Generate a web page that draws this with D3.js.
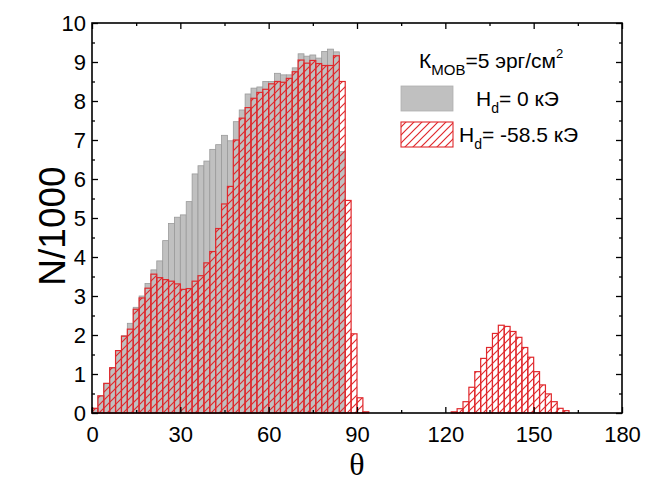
<!DOCTYPE html>
<html>
<head>
<meta charset="utf-8">
<script src="https://cdn.jsdelivr.net/npm/d3@7"></script>
<style>
  html, body { margin: 0; padding: 0; background: #fff; }
  svg { display: block; font-family: Arial, "Liberation Sans", sans-serif; }
</style>
</head>
<body>
<svg id="chart" width="646" height="486"></svg>
<script>
// Histogram of angles θ (degrees), bin width 2°, counts in thousands
const binWidth = 2;

// H_d = 0 kOe: bins starting at 0°, 2°, ... 84°
const countsZeroField = [0.12, 0.44, 0.76, 1.16, 1.60, 1.98, 2.30, 2.71, 3.00, 3.32,
  3.67, 3.90, 4.42, 4.86, 5.02, 5.08, 5.42, 6.13, 6.34, 6.46,
  6.76, 6.88, 7.12, 6.98, 7.47, 7.77, 8.18, 8.33, 8.36, 8.50,
  8.50, 8.71, 8.67, 8.67, 8.85, 9.21, 9.15, 9.18, 9.10, 9.27,
  9.33, 9.26, 6.70];
const startsZeroField = d3.range(0, countsZeroField.length * binWidth, binWidth);

// H_d = -58.5 kOe, first group: bins starting at 0° ... 92°
const countsFieldLow = [0.12, 0.44, 0.76, 1.16, 1.60, 1.97, 2.15, 2.66, 2.95, 3.20,
  3.56, 3.47, 3.42, 3.38, 3.31, 3.17, 3.19, 3.38, 3.52, 3.85,
  4.14, 4.73, 5.36, 5.81, 7.00, 7.56, 7.83, 8.07, 8.22, 8.30,
  8.44, 8.50, 8.48, 8.58, 8.75, 9.05, 8.97, 9.04, 8.96, 8.91,
  8.91, 9.16, 8.50, 5.45, 2.03, 0.39, 0.03];
const startsFieldLow = d3.range(0, countsFieldLow.length * binWidth, binWidth);

// H_d = -58.5 kOe, second group: bins starting at 122° ... 160°
const countsFieldHigh = [0.03, 0.11, 0.29, 0.66, 1.06, 1.40, 1.68, 2.04, 2.25, 2.22,
  2.09, 1.94, 1.68, 1.43, 1.06, 0.72, 0.49, 0.29, 0.12, 0.06];
const startsFieldHigh = d3.range(122, 122 + countsFieldHigh.length * binWidth, binWidth);

const xTicks = [0, 30, 60, 90, 120, 150, 180];
const xMinorTicks = [15, 45, 75, 105, 135, 165];
const yTicks = [0, 1, 2, 3, 4, 5, 6, 7, 8, 9, 10];
const yMinorTicks = [0.5, 1.5, 2.5, 3.5, 4.5, 5.5, 6.5, 7.5, 8.5, 9.5];

const grayFill = "#c0c0c0", grayStroke = "#9a9a9a", red = "#e0282c";

const svg = d3.select("#chart");
const plot = { left: 92, right: 622, top: 23, bottom: 413 };

const x = d3.scaleLinear().domain([0, 180]).range([plot.left, plot.right]);
const y = d3.scaleLinear().domain([0, 10]).range([plot.bottom, plot.top]);

// diagonal hatch used for the -58.5 kOe series
const defs = svg.append("defs");
defs.append("pattern")
  .attr("id", "hatch")
  .attr("patternUnits", "userSpaceOnUse")
  .attr("width", 8).attr("height", 8)
  .append("path")
  .attr("d", "M-1,1 l2,-2 M0,8 l8,-8 M7,9 l2,-2")
  .attr("stroke", red).attr("stroke-width", 1.2);

const bars = svg.append("g");

const toRows = (starts, counts) => starts.map((s, i) => ({ s, v: counts[i] }));

bars.selectAll("rect.zero")
  .data(toRows(startsZeroField, countsZeroField))
  .join("rect")
  .attr("class", "zero")
  .attr("x", d => x(d.s))
  .attr("width", d => x(d.s + binWidth) - x(d.s))
  .attr("y", d => y(d.v))
  .attr("height", d => y(0) - y(d.v))
  .attr("fill", grayFill)
  .attr("stroke", grayStroke)
  .attr("stroke-width", 0.8);

const fieldRows = toRows(startsFieldLow, countsFieldLow)
  .concat(toRows(startsFieldHigh, countsFieldHigh));

bars.selectAll("rect.field")
  .data(fieldRows)
  .join("rect")
  .attr("class", "field")
  .attr("x", d => x(d.s))
  .attr("width", d => x(d.s + binWidth) - x(d.s))
  .attr("y", d => y(d.v))
  .attr("height", d => y(0) - y(d.v))
  .attr("fill", "url(#hatch)")
  .attr("stroke", red)
  .attr("stroke-width", 1.2);

// axes with inward ticks on all four sides
const styleAxis = g => {
  g.selectAll(".domain").remove();
  g.selectAll(".tick line").attr("stroke", "#000").attr("stroke-width", 1.3);
  g.selectAll(".tick text").attr("fill", "#000").style("font-family", "Arial, 'Liberation Sans', sans-serif");
};

svg.append("g").attr("transform", `translate(0,${plot.bottom})`)
  .call(d3.axisBottom(x).tickValues(xTicks).tickSize(-6).tickPadding(13).tickFormat(d3.format("d")))
  .call(styleAxis)
  .selectAll(".tick text").style("font-size", "22px");
svg.append("g").attr("transform", `translate(0,${plot.bottom})`)
  .call(d3.axisBottom(x).tickValues(xMinorTicks).tickSize(-3).tickFormat(""))
  .call(styleAxis);
svg.append("g").attr("transform", `translate(0,${plot.top})`)
  .call(d3.axisTop(x).tickValues(xTicks).tickSize(-6).tickFormat(""))
  .call(styleAxis);
svg.append("g").attr("transform", `translate(0,${plot.top})`)
  .call(d3.axisTop(x).tickValues(xMinorTicks).tickSize(-3).tickFormat(""))
  .call(styleAxis);

svg.append("g").attr("transform", `translate(${plot.left},0)`)
  .call(d3.axisLeft(y).tickValues(yTicks).tickSize(-6).tickPadding(6).tickFormat(d3.format("d")))
  .call(styleAxis)
  .selectAll(".tick text").style("font-size", "22px");
svg.append("g").attr("transform", `translate(${plot.left},0)`)
  .call(d3.axisLeft(y).tickValues(yMinorTicks).tickSize(-3).tickFormat(""))
  .call(styleAxis);
svg.append("g").attr("transform", `translate(${plot.right},0)`)
  .call(d3.axisRight(y).tickValues(yTicks).tickSize(-6).tickFormat(""))
  .call(styleAxis);
svg.append("g").attr("transform", `translate(${plot.right},0)`)
  .call(d3.axisRight(y).tickValues(yMinorTicks).tickSize(-3).tickFormat(""))
  .call(styleAxis);

// frame
svg.append("rect")
  .attr("x", plot.left).attr("y", plot.top)
  .attr("width", plot.right - plot.left).attr("height", plot.bottom - plot.top)
  .attr("fill", "none").attr("stroke", "#000").attr("stroke-width", 1.6);

// axis titles
svg.append("text")
  .attr("transform", `translate(65,${(plot.top + plot.bottom) / 2 + 8}) rotate(-90)`)
  .attr("text-anchor", "middle")
  .style("font-size", "37px")
  .text("N/1000");

svg.append("text")
  .attr("x", x(90)).attr("y", 475)
  .attr("text-anchor", "middle")
  .style("font-family", "'Liberation Serif', 'Times New Roman', serif")
  .style("font-size", "32px")
  .text("θ");

// legend
const legend = svg.append("g").style("font-size", "21px");

const kText = legend.append("text").attr("x", 419).attr("y", 68);
kText.append("tspan").text("К");
kText.append("tspan").attr("dy", 7).style("font-size", "15px").text("МОВ");
kText.append("tspan").attr("dy", -7).text("=5 эрг/см");
kText.append("tspan").attr("dy", -10).style("font-size", "13px").text("2");

legend.append("rect")
  .attr("x", 401).attr("y", 86).attr("width", 52).attr("height", 25)
  .attr("fill", grayFill).attr("stroke", "#b0b0b0").attr("stroke-width", 0.8);
const h0 = legend.append("text").attr("x", 476).attr("y", 106);
h0.append("tspan").text("H");
h0.append("tspan").attr("dy", 7).style("font-size", "14px").text("d");
h0.append("tspan").attr("dy", -7).text("= 0 кЭ");

legend.append("rect")
  .attr("x", 401).attr("y", 122).attr("width", 52).attr("height", 25)
  .attr("fill", "url(#hatch)").attr("stroke", red).attr("stroke-width", 1.1);
const h1 = legend.append("text").attr("x", 459).attr("y", 142);
h1.append("tspan").text("H");
h1.append("tspan").attr("dy", 7).style("font-size", "14px").text("d");
h1.append("tspan").attr("dy", -7).text("= -58.5 кЭ");
</script>
</body>
</html>
